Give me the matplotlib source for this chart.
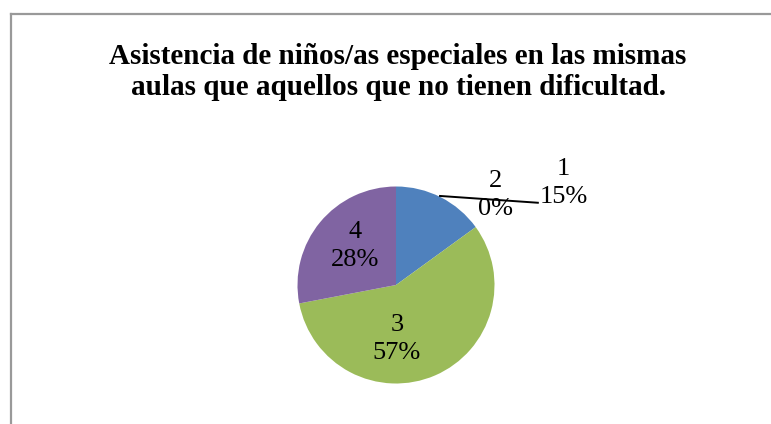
import numpy as np
import matplotlib.pyplot as plt
from matplotlib.lines import Line2D

plt.rcParams['font.family'] = ['Liberation Serif', 'DejaVu Serif']

title = 'Asistencia de niños/as especiales en las mismas\naulas que aquellos que no tienen dificultad.'
categories = ['1', '2', '3', '4']
values = [15, 0, 57, 28]
colors = ['#4F81BD', '#C0504D', '#9BBB59', '#8064A2']

W, H = 771, 424
fig = plt.figure(figsize=(W / 100, H / 100), dpi=100)

# chart frame (only left + top visible in the crop)
fig.add_artist(Line2D([10.5 / W, 10.5 / W], [0, 1 - 14 / H], color='#999999', lw=1.6))
fig.add_artist(Line2D([10.5 / W, 1], [1 - 14 / H, 1 - 14 / H], color='#999999', lw=1.6))

fig.text(398 / W, 1 - 72 / H, title, ha='center', va='center', fontsize=21,
         fontweight='bold', linespacing=1.22)

# pie axes: center (396, 285) px, radius ~98.5 px
r = 98.5
cx, cy = 396, 285
half = 150
ax = fig.add_axes([(cx - half) / W, (H - cy - half) / H, 2 * half / W, 2 * half / H])
ax.pie(values, colors=colors, startangle=90, counterclock=False, radius=1,
       wedgeprops=dict(linewidth=0))
lim = half / r
ax.set_xlim(-lim, lim)
ax.set_ylim(-lim, lim)
ax.set_aspect('equal')
ax.axis('off')

fs = 19
ls = 1.35
pct = [f'{v}%' for v in values]
# label spots (in pie radius units)
ax.text(-0.42, 0.40, f'{categories[3]}\n{pct[3]}', ha='center', va='center', fontsize=fs, linespacing=ls)
ax.text(0.01, -0.55, f'{categories[2]}\n{pct[2]}', ha='center', va='center', fontsize=fs, linespacing=ls)
ax.text(1.01, 0.91, f'{categories[1]}\n{pct[1]}', ha='center', va='center', fontsize=fs, linespacing=ls,
        clip_on=False)
ax.text(1.70, 1.04, f'{categories[0]}\n{pct[0]}', ha='center', va='center', fontsize=fs, linespacing=ls,
        clip_on=False)
ax.plot([0.447, 1.44], [0.904, 0.835], color='black', lw=1.4, clip_on=False)

fig.savefig('out.png', dpi=100)
